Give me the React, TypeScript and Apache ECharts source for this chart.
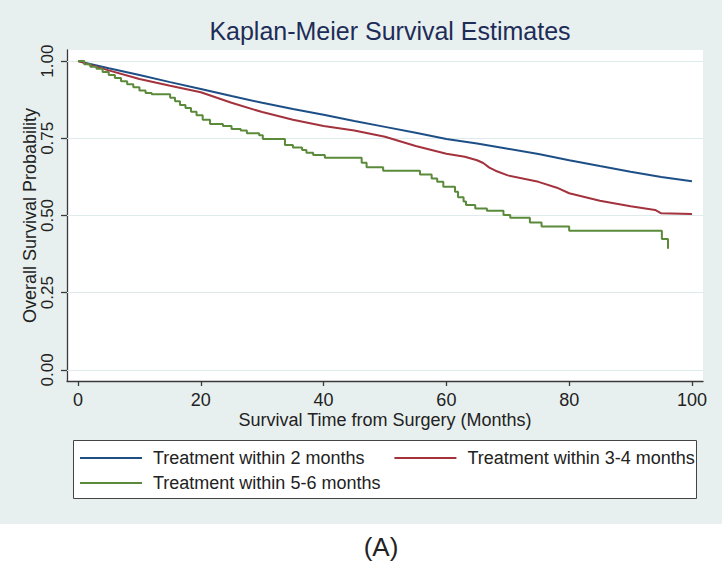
import React, { useEffect, useRef } from "react";
import * as echarts from "echarts";

const FONT = "'Liberation Sans', Arial, Helvetica, sans-serif";

const TITLE = "Kaplan-Meier Survival Estimates";
const X_NAME = "Survival Time from Surgery (Months)";
const Y_NAME = "Overall Survival Probability";

const X_TICKS = [0, 20, 40, 60, 80, 100];
const Y_TICKS = [0, 0.25, 0.5, 0.75, 1];

const SERIES_NAMES = [
  "Treatment within 2 months",
  "Treatment within 3-4 months",
  "Treatment within 5-6 months",
];

// Treatment within 2 months
const blueTimes = [0, 5, 10, 15, 20, 25, 30, 35, 40, 45, 50, 55, 60, 65, 70, 75, 80, 85, 90, 95, 100];
const blueSurv = [1, 0.977, 0.955, 0.932, 0.91, 0.887, 0.865, 0.845, 0.826, 0.806, 0.787, 0.768, 0.748, 0.733, 0.716, 0.699, 0.679, 0.66, 0.642, 0.625, 0.611];

// Treatment within 3-4 months
const redTimes = [0, 5, 10, 15, 20, 25, 30, 35, 40, 45, 50, 55, 60, 63, 65, 66, 67, 68, 70, 75, 78, 80, 85, 90, 94, 95, 100];
const redSurv = [1, 0.97, 0.942, 0.92, 0.899, 0.865, 0.835, 0.81, 0.79, 0.775, 0.755, 0.725, 0.7, 0.69, 0.679, 0.67, 0.655, 0.645, 0.63, 0.609, 0.59, 0.572, 0.548, 0.53, 0.518, 0.507, 0.505];

// Treatment within 5-6 months (step function: time of drop, new value)
const greenTimes = [0, 1, 2, 3, 4, 5, 6, 7, 8, 9, 10, 11, 12, 15, 15.8, 16.6, 17.5, 18.4, 19.3, 20.3, 21.5, 23.6, 25, 26.5, 27.5, 29.5, 30.1, 33.7, 35, 36.5, 37.2, 38.3, 40.2, 46.2, 47, 49.7, 55.7, 57.6, 58.5, 59.5, 61.4, 61.9, 62.8, 63.2, 64.7, 66.6, 69.3, 70.4, 73.6, 75.5, 80, 95.1, 96.1];
const greenSurv = [1, 0.99, 0.982, 0.975, 0.965, 0.955, 0.945, 0.935, 0.925, 0.915, 0.905, 0.897, 0.893, 0.881, 0.87, 0.858, 0.848, 0.836, 0.825, 0.81, 0.796, 0.79, 0.78, 0.775, 0.766, 0.76, 0.748, 0.728, 0.72, 0.712, 0.703, 0.696, 0.687, 0.671, 0.656, 0.645, 0.633, 0.62, 0.609, 0.593, 0.577, 0.559, 0.545, 0.534, 0.523, 0.515, 0.502, 0.493, 0.477, 0.464, 0.451, 0.424, 0.392];

const COLORS = ["#1d4f86", "#a3323d", "#5a8a3a"];

const zip = (t: number[], v: number[]) => t.map((x, i) => [x, v[i]]);

export default function App() {
  const ref = useRef<HTMLDivElement>(null);

  useEffect(() => {
    if (!ref.current) return;
    const chart = echarts.init(ref.current, undefined, { renderer: "svg" });

    const axisColor = "#3a3a3a";
    const textColor = "#222";

    const option: any = {
      animation: false,
      backgroundColor: "#e8f0ef",
      title: {
        text: TITLE,
        left: 385,
        top: 13,
        textAlign: "center",
        textStyle: { fontSize: 25, fontWeight: "normal", color: "#1e2c58", fontFamily: FONT },
      },
      grid: {
        left: 67,
        right: 19,
        top: 50,
        bottom: 184,
        show: true,
        backgroundColor: "#ffffff",
        borderWidth: 0,
      },
      xAxis: {
        type: "value",
        min: -1.8,
        max: 101.8,
        axisLine: { show: true, onZero: false, lineStyle: { color: axisColor, width: 1.3 } },
        axisTick: { show: true, customValues: X_TICKS, length: 5, lineStyle: { color: axisColor, width: 1.3 } },
        axisLabel: { customValues: X_TICKS, fontSize: 18, color: textColor, margin: 10, fontFamily: FONT },
        splitLine: { show: false },
        name: X_NAME,
        nameLocation: "middle",
        nameGap: 30,
        nameMoveOverlap: false,
        nameTextStyle: { fontSize: 18, color: textColor, fontFamily: FONT },
      },
      yAxis: {
        type: "value",
        min: -0.036,
        max: 1.036,
        axisLine: { show: true, onZero: false, lineStyle: { color: axisColor, width: 1.3 } },
        axisTick: { show: true, customValues: Y_TICKS, length: 6, lineStyle: { color: axisColor, width: 1.3 } },
        axisLabel: {
          customValues: Y_TICKS,
          rotate: 90,
          align: "center",
          verticalAlign: "bottom",
          fontSize: 17,
          color: textColor,
          margin: 11,
          fontFamily: FONT,
          formatter: (v: number) => v.toFixed(2),
        },
        splitLine: { show: false },
        name: Y_NAME,
        nameLocation: "middle",
        nameRotate: 90,
        nameGap: 28,
        nameMoveOverlap: false,
        nameTextStyle: { fontSize: 18, color: textColor, fontFamily: FONT },
      },
      legend: [
        {
          data: [SERIES_NAMES[0], SERIES_NAMES[1]],
          left: 80,
          top: 449,
          padding: 0,
          itemWidth: 62,
          itemHeight: 2,
          itemGap: 30,
          icon: "rect",
          z: 10,
          textStyle: { fontSize: 18, color: textColor, fontFamily: FONT, padding: [0, 0, 0, 6] },
        },
        {
          data: [SERIES_NAMES[2]],
          left: 80,
          top: 474,
          padding: 0,
          itemWidth: 62,
          itemHeight: 2,
          icon: "rect",
          z: 10,
          textStyle: { fontSize: 18, color: textColor, fontFamily: FONT, padding: [0, 0, 0, 6] },
        },
      ],
      graphic: [
        { type: "rect", z: 1, shape: { x: 0, y: 524, width: 722, height: 41 }, style: { fill: "#ffffff" } },
        {
          type: "rect",
          z: 1,
          shape: { x: 73.5, y: 440.5, width: 623, height: 58 },
          style: { fill: "#ffffff", stroke: "#444", lineWidth: 1 },
        },
        {
          type: "text",
          z: 1,
          style: {
            text: "(A)",
            x: 381,
            y: 547,
            align: "center",
            verticalAlign: "middle",
            fontSize: 26,
            fill: textColor,
            fontFamily: FONT,
          },
        },
      ],
      series: [
        {
          name: SERIES_NAMES[0],
          type: "line",
          data: zip(blueTimes, blueSurv),
          symbol: "none",
          color: COLORS[0],
          lineStyle: { width: 2, color: COLORS[0] },
          z: 3,
          markLine: {
            silent: true,
            symbol: "none",
            label: { show: false },
            lineStyle: { color: "#dfeaea", width: 1, type: "solid" },
            data: Y_TICKS.map((y) => ({ yAxis: y })),
            z: 1,
          },
        },
        {
          name: SERIES_NAMES[1],
          type: "line",
          data: zip(redTimes, redSurv),
          symbol: "none",
          color: COLORS[1],
          lineStyle: { width: 2, color: COLORS[1] },
          z: 3,
        },
        {
          name: SERIES_NAMES[2],
          type: "line",
          step: "end",
          data: zip(greenTimes, greenSurv),
          symbol: "none",
          color: COLORS[2],
          lineStyle: { width: 2, color: COLORS[2] },
          z: 3,
        },
      ],
    };

    chart.setOption(option);
    return () => chart.dispose();
  }, []);

  return (
    <div
      ref={ref}
      style={{ position: "absolute", left: 0, top: 0, width: 722, height: 565 }}
    />
  );
}
